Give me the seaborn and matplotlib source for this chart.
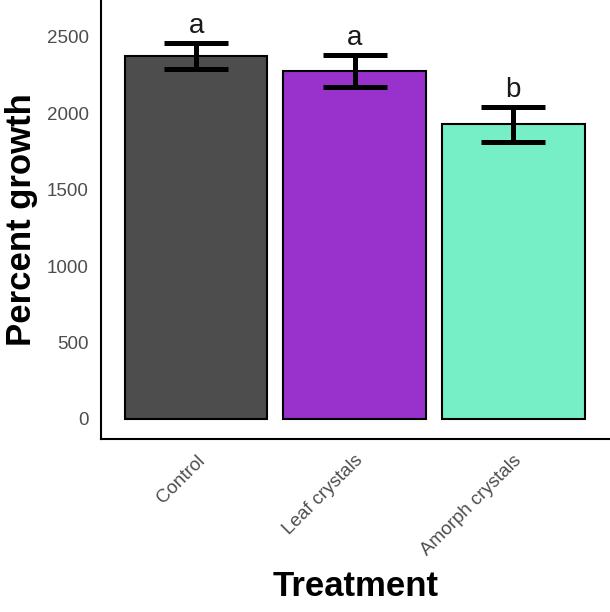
import pandas as pd
import matplotlib
matplotlib.use('Agg')
import matplotlib.pyplot as plt
import seaborn as sns

treatments = ['Control', 'Leaf crystals', 'Amorph crystals']
growth_mean = [2376, 2273, 1926]
growth_se = [86, 105, 113]
letters = ['a', 'a', 'b']
bar_colors = ['#4D4D4D', '#9932CC', '#76EEC6']

df = pd.DataFrame({'Treatment': treatments, 'Growth': growth_mean})

sns.set_style('white')
plt.rcParams['font.family'] = ['Liberation Sans', 'DejaVu Sans']

fig = plt.figure(figsize=(6.1, 6.12), dpi=100)
ax = fig.add_axes([101 / 610, 1 - 439 / 612, 509 / 610, 439 / 612])

sns.barplot(data=df, x='Treatment', y='Growth', hue='Treatment',
            palette=bar_colors, saturation=1, width=0.9, edgecolor='black',
            linewidth=1.5, legend=False, ax=ax)

ax.errorbar(range(len(treatments)), growth_mean, yerr=growth_se, fmt='none',
            ecolor='black', elinewidth=3.6, capsize=23, capthick=3.6, zorder=5)

for i, (m, s, lab) in enumerate(zip(growth_mean, growth_se, letters)):
    ax.text(i, m + s + 65, lab, ha='center', va='baseline', fontsize=20, color='#1a1a1a')

ax.set_xlim(-0.6, 2.61)
ax.set_ylim(-131, 2740)
ax.set_yticks([0, 500, 1000, 1500, 2000, 2500])

ax.set_xlabel('Treatment', fontsize=25, fontweight='bold', labelpad=8, color='black')
ax.set_ylabel('Percent growth', fontsize=25, fontweight='bold', labelpad=6, color='black')

ax.tick_params(axis='both', length=5.5, width=1.5, color='#333333',
               labelcolor='#4D4D4D', labelsize=13.5, direction='out')
ax.tick_params(axis='x', pad=4)
for lbl in ax.get_xticklabels():
    lbl.set_rotation(45)
    lbl.set_ha('right')
    lbl.set_rotation_mode('anchor')

sns.despine(ax=ax)
for sp in ['left', 'bottom']:
    ax.spines[sp].set_linewidth(1.5)
    ax.spines[sp].set_color('black')

fig.savefig('out.png', dpi=100)
